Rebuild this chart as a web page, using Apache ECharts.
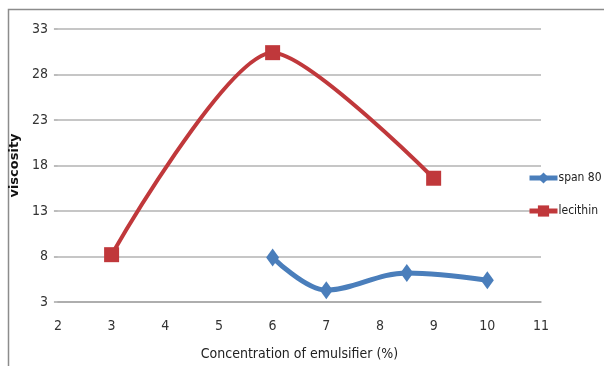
<!DOCTYPE html>
<html><head><meta charset="utf-8">
<script src="https://cdn.jsdelivr.net/npm/echarts@6/dist/echarts.min.js"></script>
<style>html,body{margin:0;padding:0;background:#fff}#c{width:604px;height:366px}</style>
</head><body><div id="c"></div>
<script>
const seriesNames = ['span 80', 'lecithin'];
const span80X = [6, 7, 8.5, 10];
const span80Y = [7.9, 4.3, 6.2, 5.4];
const lecithinX = [3, 6, 9];
const lecithinY = [8.2, 30.4, 16.6];
const xTicks = [2, 3, 4, 5, 6, 7, 8, 9, 10, 11];
const yTicks = [3, 8, 13, 18, 23, 28, 33];

const FONT = "'DejaVu Sans Condensed', 'Liberation Sans Narrow', 'Liberation Sans', sans-serif";
const chart = echarts.init(document.getElementById('c'), null, {renderer: 'canvas'});
const pair = (xs, ys) => xs.map((x, i) => [x, ys[i]]);
chart.setOption({
  animation: false,
  backgroundColor: '#fff',
  graphic: [{
    type: 'rect', shape: {x: 8.5, y: 9.5, width: 620, height: 380},
    style: {fill: 'none', stroke: '#8c8c8c', lineWidth: 1.5}, silent: true, z: -1
  }],
  grid: {left: 54, right: 63, top: 29, bottom: 63},
  legend: {
    orient: 'vertical', left: 527, top: 172, itemGap: 21, padding: 0,
    itemWidth: 28, itemHeight: 14,
    lineStyle: {width: 5},
    textStyle: {fontFamily: FONT, fontSize: 12, color: '#222', padding: [0, 0, 0, -4]},
    data: seriesNames
  },
  xAxis: {
    type: 'value', min: 2, max: 11, interval: 1,
    name: 'Concentration of emulsifier (%)', nameLocation: 'middle', nameGap: 45,
    nameTextStyle: {fontFamily: FONT, fontSize: 14, color: '#222'},
    axisLine: {show: true, lineStyle: {color: '#a6a6a6', width: 1.5}},
    axisTick: {show: false},
    splitLine: {show: false},
    axisLabel: {fontFamily: FONT, fontSize: 14, color: '#333', margin: 17}
  },
  yAxis: {
    type: 'value', min: 3, max: 33, interval: 5,
    name: 'viscosity', nameLocation: 'middle', nameGap: 30, nameRotate: 90,
    nameTextStyle: {fontFamily: "'DejaVu Sans', sans-serif", fontSize: 13, fontWeight: 'bold', color: '#111'},
    axisLine: {show: false},
    axisTick: {show: true, length: 4, lineStyle: {color: '#a6a6a6', width: 1.5}},
    splitLine: {show: true, lineStyle: {color: '#b3b3b3', width: 1.5}},
    axisLabel: {fontFamily: FONT, fontSize: 14, color: '#333', margin: 10}
  },
  series: [
    {
      name: seriesNames[0], type: 'line', smooth: 0.35,
      data: pair(span80X, span80Y),
      symbol: 'diamond', symbolSize: [13, 18],
      itemStyle: {color: '#4a7ebb'},
      lineStyle: {width: 5, color: '#4a7ebb'}
    },
    {
      name: seriesNames[1], type: 'line', smooth: 0.25,
      data: pair(lecithinX, lecithinY),
      symbol: 'rect', symbolSize: 15,
      itemStyle: {color: '#c0383b'},
      lineStyle: {width: 4, color: '#c0383b'}
    }
  ]
});
</script></body></html>
